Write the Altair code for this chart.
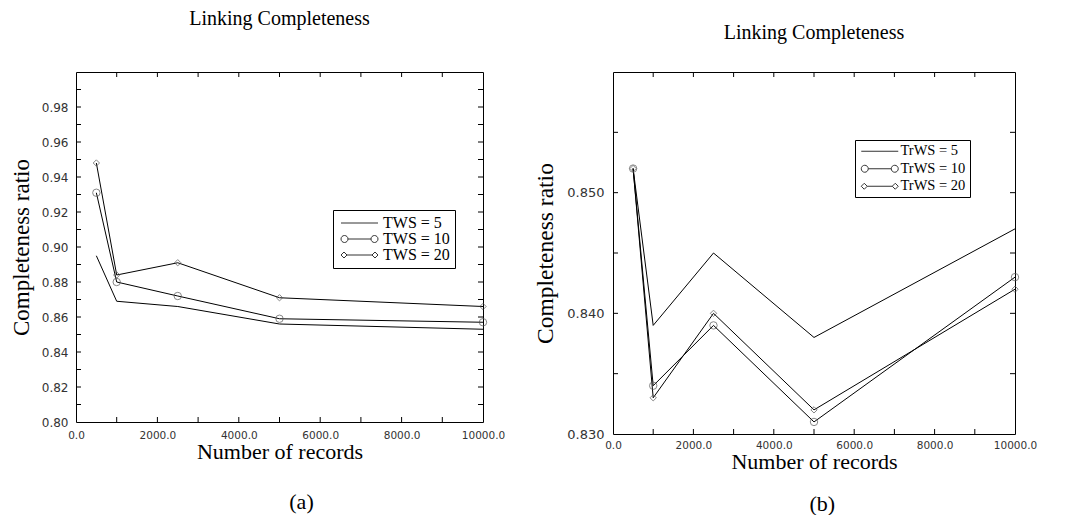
import altair as alt
import pandas as pd

# ---------------- data ----------------
records = [500, 1000, 2500, 5000, 10000]

a_names = ["TWS = 5", "TWS = 10", "TWS = 20"]
a_tws5 = [0.895, 0.869, 0.866, 0.856, 0.853]
a_tws10 = [0.931, 0.880, 0.872, 0.859, 0.857]
a_tws20 = [0.948, 0.884, 0.891, 0.871, 0.866]

b_names = ["TrWS = 5", "TrWS = 10", "TrWS = 20"]
b_trws5 = [0.852, 0.839, 0.845, 0.838, 0.847]
b_trws10 = [0.852, 0.834, 0.839, 0.831, 0.843]
b_trws20 = [0.852, 0.833, 0.840, 0.832, 0.842]

x_label_values = [0, 2000, 4000, 6000, 8000, 10000]
x_minor_ticks = [1000, 2000, 3000, 4000, 5000, 6000, 7000, 8000, 9000]

a_y_labels = [0.80, 0.82, 0.84, 0.86, 0.88, 0.90, 0.92, 0.94, 0.96, 0.98]
a_y_ticks = [0.81, 0.82, 0.83, 0.84, 0.85, 0.86, 0.87, 0.88, 0.89, 0.90,
             0.91, 0.92, 0.93, 0.94, 0.95, 0.96, 0.97, 0.98, 0.99]
b_y_labels = [0.830, 0.840, 0.850]
b_y_ticks = [0.835, 0.840, 0.845, 0.850, 0.855]

# legend symbols (line, line with circles, line with diamonds); unit = 5 px
P_LINE = "M-1,0L6.4,0"
P_CIRC = ("M-1,0A0.7,0.7,0,1,1,0.4,0A0.7,0.7,0,1,1,-1,0"
          "M0.4,0L5,0"
          "M5,0A0.7,0.7,0,1,1,6.4,0A0.7,0.7,0,1,1,5,0")
P_DIAM = ("M-1,0L-0.4,-0.6L0.2,0L-0.4,0.6Z"
          "M0.2,0L5.2,0"
          "M5.2,0L5.8,-0.6L6.4,0L5.8,0.6Z")

SERIF = "Liberation Serif"
SANS = "DejaVu Sans"


def long_df(names, series):
    rows = []
    for n, vals in zip(names, series):
        for x, v in zip(records, vals):
            rows.append({"records": x, "ratio": v, "series": n})
    return pd.DataFrame(rows)


def panel(names, series, ydom, ylabels, yticks, yfmt, ylabsize, ytitlesize, W, H,
          title_text, title_offset,
          legx, legy, legfont, legrowpad, leglaboff, legpad,
          ylabpad, ytitlepad, xlabpad, xtitlepad):
    df = long_df(names, series)
    xs = alt.Scale(domain=[0, 10000], nice=False, zero=False)
    ys = alt.Scale(domain=ydom, nice=False, zero=False)

    xaxis = alt.Axis(values=x_label_values, format=".1f", ticks=False, tickSize=0,
                     domain=False, grid=False, labelFont=SANS, labelFontSize=10.5,
                     labelColor="#333333", labelPadding=xlabpad, labelFlush=False,
                     title="Number of records", titleFont=SERIF, titleFontSize=22,
                     titleFontWeight="normal", titleColor="black",
                     titlePadding=xtitlepad)
    yaxis = alt.Axis(values=ylabels, format=yfmt, ticks=False, tickSize=0,
                     domain=False, grid=False, labelFont=SANS, labelFontSize=ylabsize,
                     labelColor="#333333", labelPadding=ylabpad,
                     title="Completeness ratio", titleFont=SERIF,
                     titleFontSize=ytitlesize, titleFontWeight="normal",
                     titleColor="black", titlePadding=ytitlepad)

    X = lambda f: alt.X(f, scale=xs, axis=xaxis)
    Y = lambda f: alt.Y(f, scale=ys, axis=yaxis)

    base = alt.Chart(df)
    lines = base.mark_line(color="black", strokeWidth=1).encode(
        x=X("records:Q"), y=Y("ratio:Q"), detail="series:N")
    circles = base.transform_filter(alt.datum.series == names[1]).mark_point(
        shape="circle", size=55, filled=False, stroke="#555555", strokeWidth=1
    ).encode(x=X("records:Q"), y=Y("ratio:Q"))
    diamonds = base.transform_filter(alt.datum.series == names[2]).mark_point(
        shape="diamond", size=40, filled=False, stroke="#555555", strokeWidth=1
    ).encode(x=X("records:Q"), y=Y("ratio:Q"))

    legend_layer = alt.Chart(pd.DataFrame({"series": names})).mark_point(
        opacity=0, filled=False, color="black"
    ).encode(
        x=alt.value(0), y=alt.value(0),
        shape=alt.Shape("series:N",
                        scale=alt.Scale(domain=names, range=[P_LINE, P_CIRC, P_DIAM]),
                        legend=alt.Legend(orient="none", legendX=legx, legendY=legy,
                                          title=None, strokeColor="black",
                                          padding=legpad, labelFont=SERIF,
                                          labelFontSize=legfont, labelColor="black",
                                          symbolSize=100, symbolOpacity=1,
                                          symbolStrokeColor="#333333",
                                          symbolFillColor="transparent",
                                          symbolStrokeWidth=1, rowPadding=legrowpad,
                                          labelOffset=leglaboff)),
    )

    xt = pd.DataFrame({"t": x_minor_ticks})
    yt = pd.DataFrame({"t": yticks})
    tick_b = alt.Chart(xt).mark_rule(color="black", strokeWidth=1).encode(
        x=X("t:Q"), y=alt.value(H), y2=alt.value(H - 5))
    tick_t = alt.Chart(xt).mark_rule(color="black", strokeWidth=1).encode(
        x=X("t:Q"), y=alt.value(0), y2=alt.value(5))
    tick_l = alt.Chart(yt).mark_rule(color="black", strokeWidth=1).encode(
        y=Y("t:Q"), x=alt.value(0), x2=alt.value(5))
    tick_r = alt.Chart(yt).mark_rule(color="black", strokeWidth=1).encode(
        y=Y("t:Q"), x=alt.value(W), x2=alt.value(W - 5))

    return alt.layer(lines, circles, diamonds, legend_layer,
                     tick_b, tick_t, tick_l, tick_r).properties(
        width=W, height=H,
        title=alt.TitleParams(title_text, font=SERIF, fontSize=20,
                              fontWeight="normal", color="black",
                              offset=title_offset, frame="group",
                              anchor="middle"),
    )


def caption(text, offset, dx):
    return alt.TitleParams(text, orient="bottom", font=SERIF, fontSize=22,
                           fontWeight="normal", color="black", offset=offset,
                           dx=dx, anchor="middle", frame="bounds")


left = panel(a_names, [a_tws5, a_tws10, a_tws20], [0.80, 1.00], a_y_labels, a_y_ticks,
             ".2f", 12, 23, 407, 350,
             "Linking Completeness", 41,
             257, 138, 16, 0, 29, 5,
             8, 8, 8, 1)
right = panel(b_names, [b_trws5, b_trws10, b_trws20], [0.830, 0.860], b_y_labels, b_y_ticks,
              ".3f", 13, 23.5, 402, 362,
              "Linking Completeness", 27,
              242, 68, 14.5, 2.5, 27, 4,
              9, 9, 6, 1)

left_box = alt.vconcat(left).properties(title=caption("(a)", 29, 44))
right_box = alt.vconcat(right).properties(title=caption("(b)", 21, 37))

chart = alt.hconcat(left_box, right_box, spacing=27).resolve_scale(
    shape="independent"
).resolve_legend(shape="independent").properties(
    padding={"left": 1, "top": 0, "right": 0, "bottom": 0}
).configure_view(stroke="black", strokeWidth=1)

chart.save("out.html", embed_options={"renderer": "svg", "actions": False})
